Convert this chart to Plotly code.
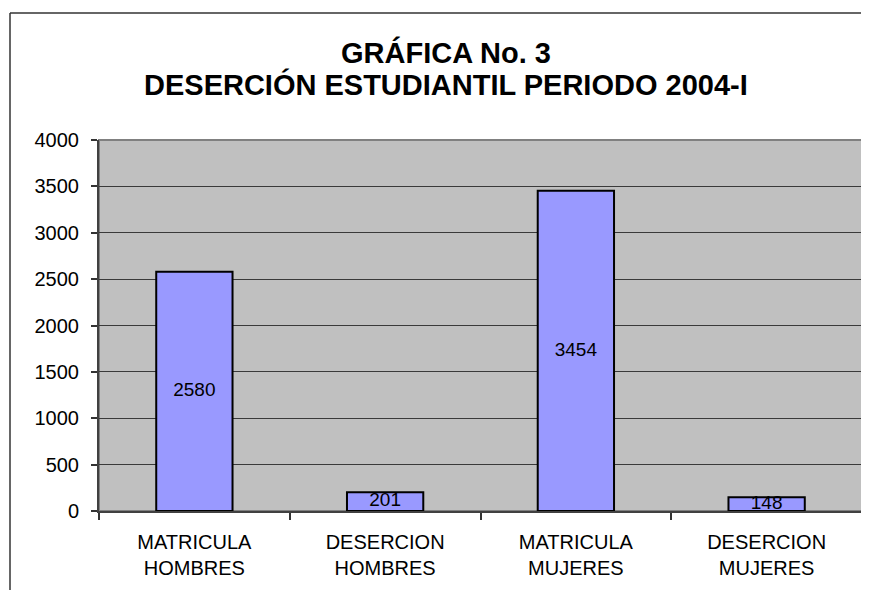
import plotly.graph_objects as go

categories = ["MATRICULA<br>HOMBRES", "DESERCION<br>HOMBRES", "MATRICULA<br>MUJERES", "DESERCION<br>MUJERES"]
values = [2580, 201, 3454, 148]
title_line1 = "GRÁFICA No. 3"
title_line2 = "DESERCIÓN ESTUDIANTIL PERIODO 2004-I"
y_ticks = [0, 500, 1000, 1500, 2000, 2500, 3000, 3500, 4000]

FONT = "Liberation Sans, Arial, sans-serif"

fig = go.Figure()
fig.add_trace(go.Bar(
    x=categories, y=values, width=0.4,
    marker=dict(color="#9999FF", line=dict(color="black", width=2)),
    hoverinfo="skip",
))
fig.add_trace(go.Scatter(
    x=categories, y=[v / 2 for v in values], mode="text",
    text=[str(v) for v in values],
    textfont=dict(family=FONT, size=19, color="black"),
    textposition="middle center", hoverinfo="skip",
))

# page body has an 8px margin: work in figure coordinates = page - 8
OFF = 8
W, H = 869 - OFF, 590 - OFF
L, R, T, B = 99 - OFF, 862 - OFF, 140 - OFF, 511 - OFF
pw, ph = R - L, B - T

def px_x(p):
    return (p - OFF - L) / pw

def px_y(p):
    return (B - (p - OFF)) / ph

fig.update_layout(
    width=W, height=H,
    margin=dict(l=L, r=W - R, t=T, b=H - B, pad=0),
    paper_bgcolor="white", plot_bgcolor="#C0C0C0",
    showlegend=False,
    bargap=0.6,
    font=dict(family=FONT, size=20, color="black"),
    xaxis=dict(
        type="category", tickson="boundaries", ticks="outside", ticklen=7,
        tickcolor="#333333", tickwidth=1.5,
        showline=True, linecolor="#404040", linewidth=2,
        showgrid=False, tickfont=dict(family=FONT, size=20, color="black"),
        ticklabelstandoff=12, fixedrange=True,
    ),
    yaxis=dict(
        range=[0, 4000], tickvals=y_ticks, ticks="outside", ticklen=6,
        tickcolor="#333333", tickwidth=1.5,
        showline=True, linecolor="#404040", linewidth=2,
        showgrid=True, gridcolor="#3a3a3a", gridwidth=1.2,
        zeroline=False, tickfont=dict(family=FONT, size=20, color="black"),
        ticklabelstandoff=8, fixedrange=True,
    ),
    shapes=[
        dict(type="rect", xref="paper", yref="paper", x0=0, x1=1, y0=0, y1=1,
             line=dict(color="#808080", width=2), layer="below"),
        dict(type="line", xref="paper", yref="paper",
             x0=px_x(10), x1=px_x(890), y0=px_y(13), y1=px_y(13),
             line=dict(color="#333333", width=1.5)),
        dict(type="line", xref="paper", yref="paper",
             x0=px_x(10), x1=px_x(10), y0=px_y(13), y1=px_y(620),
             line=dict(color="#333333", width=1.5)),
    ],
    annotations=[
        dict(text="<b>" + title_line1 + "</b>", xref="paper", yref="paper",
             x=px_x(446), y=px_y(52), xanchor="center", yanchor="middle",
             showarrow=False, font=dict(family=FONT, size=29, color="black")),
        dict(text="<b>" + title_line2 + "</b>", xref="paper", yref="paper",
             x=px_x(446), y=px_y(84), xanchor="center", yanchor="middle",
             showarrow=False, font=dict(family=FONT, size=29, color="black")),
    ],
)

fig.write_html("out.html")
